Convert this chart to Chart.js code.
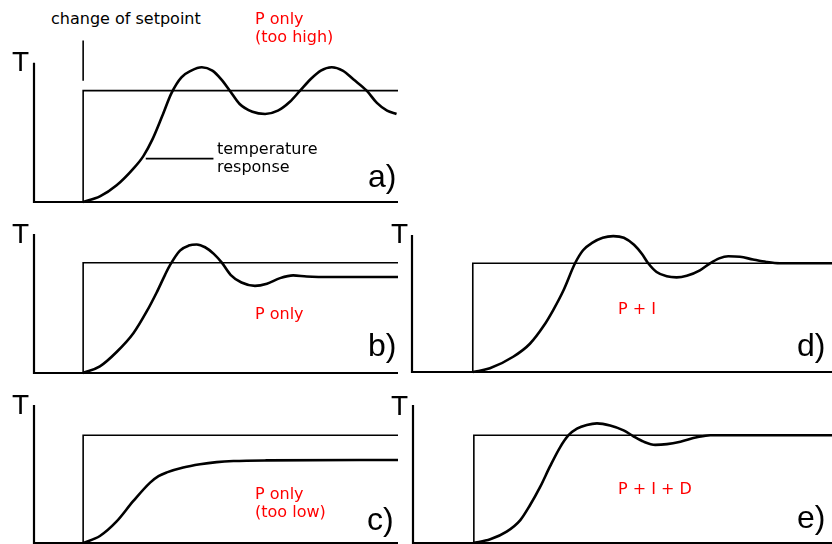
<!DOCTYPE html>
<html>
<head>
<meta charset="utf-8">
<title>Controller responses</title>
<script src="https://cdn.jsdelivr.net/npm/chart.js@4/dist/chart.umd.min.js"></script>
<style>
  body { margin: 0; width: 832px; height: 544px; overflow: hidden; background: #fff; position: relative; }
  canvas { position: absolute; }
  .lbl { position: absolute; font-family: "DejaVu Sans", Verdana, sans-serif; font-size: 16px; line-height: 18px; color: #000; white-space: nowrap; }
  .red { color: #ff0000; }
  .axisT { position: absolute; font-family: "Liberation Sans", Arial, sans-serif; font-size: 28px; line-height: 28px; }
  .tag { position: absolute; font-family: "Liberation Sans", Arial, sans-serif; font-size: 32px; line-height: 32px; }
</style>
</head>
<body>

<canvas id="chartA"></canvas>
<canvas id="chartB"></canvas>
<canvas id="chartC"></canvas>
<canvas id="chartD"></canvas>
<canvas id="chartE"></canvas>

<div class="lbl" style="left:51px; top:10px;">change of setpoint</div>
<div class="lbl red" style="left:255px; top:10px;">P only<br>(too high)</div>
<div class="lbl" style="left:217px; top:140px;">temperature<br>response</div>
<div class="lbl red" style="left:255px; top:305px;">P only</div>
<div class="lbl red" style="left:255px; top:485px;">P only<br>(too low)</div>
<div class="lbl red" style="left:618px; top:300px;">P + I</div>
<div class="lbl red" style="left:618px; top:480px;">P + I + D</div>

<div class="axisT" style="left:12px; top:48px;">T</div>
<div class="axisT" style="left:12px; top:220px;">T</div>
<div class="axisT" style="left:12px; top:391px;">T</div>
<div class="axisT" style="left:391px; top:220px;">T</div>
<div class="axisT" style="left:391px; top:392px;">T</div>

<div class="tag" style="left:368px; top:160px;">a)</div>
<div class="tag" style="left:368px; top:329px;">b)</div>
<div class="tag" style="left:367px; top:503px;">c)</div>
<div class="tag" style="left:797px; top:329px;">d)</div>
<div class="tag" style="left:797px; top:501px;">e)</div>

<script>
// setpoint is 1.0 in every panel, step happens at the given time
const setpoint = 1.0;
const stepLeft = 13.5;   // panels a, b, c
const stepRight = 16.7;  // panels d, e

// a) P only, gain too high - sustained oscillation
const timeA = [13.5, 18.1, 22.7, 27.3, 30.0, 32.5, 35.2, 37.8, 40.5, 43.2, 46.1, 49.0, 51.5, 53.8, 56.5, 60.0, 63.5,
               67.0, 70.3, 73.1, 75.9, 78.8, 81.8, 84.8, 87.8, 91.4, 94.2, 97.0, 99.6];
const tempA = [0, 0.05, 0.15, 0.30, 0.41, 0.56, 0.77, 0.98, 1.12, 1.18, 1.21, 1.18, 1.10, 1.0, 0.88, 0.81, 0.79,
               0.82, 0.90, 1.0, 1.10, 1.18, 1.21, 1.18, 1.10, 1.0, 0.89, 0.82, 0.79];

// b) P only - settles below the setpoint
const timeB = [13.5, 18.1, 22.7, 27.3, 31.0, 33.7, 36.0, 37.4, 40.1, 42.5, 44.7, 47.0, 49.4, 51.6, 54.0, 57.0, 60.7,
               64.0, 67.6, 71.2, 74.9, 82.0, 100];
const tempB = [0, 0.06, 0.19, 0.36, 0.56, 0.73, 0.89, 0.98, 1.11, 1.155, 1.165, 1.14, 1.08, 1.0, 0.89, 0.82, 0.79,
               0.81, 0.86, 0.885, 0.875, 0.87, 0.87];

// c) P only, gain too low - slow, large offset
const timeC = [13.5, 18.1, 22.7, 27.3, 31.9, 34.2, 36.5, 41.0, 45.6, 50.2, 54.8, 63.9, 100];
const tempC = [0, 0.065, 0.20, 0.39, 0.56, 0.62, 0.655, 0.70, 0.73, 0.75, 0.76, 0.766, 0.77];

// d) P + I - overshoot, no offset
const timeD = [16.8, 21.4, 27.8, 32.4, 36.1, 38.8, 41.6, 44.8, 47.0, 49.6, 52.4, 55.3, 58.2, 61.0, 63.2, 64.9, 67.2,
               70.0, 72.7, 75.5, 79.1, 81.9, 84.4, 86.9, 90.1, 93.7, 97.4, 101.1, 108.0, 115.4];
const tempD = [0, 0.034, 0.14, 0.26, 0.42, 0.57, 0.75, 1.0, 1.12, 1.19, 1.235, 1.25, 1.235, 1.17, 1.085, 1.0, 0.92,
               0.88, 0.87, 0.885, 0.935, 1.0, 1.045, 1.065, 1.06, 1.035, 1.012, 1.0, 1.0, 1.0];

// e) P + I + D - small overshoot, fast settling
const timeE = [16.5, 21.2, 25.7, 29.4, 32.1, 34.9, 37.6, 40.4, 42.7, 45.0, 47.7, 50.5, 54.1, 57.8, 60.5, 63.3, 66.5,
               69.7, 73.4, 77.9, 81.6, 87.1, 115];
const tempE = [0, 0.034, 0.105, 0.21, 0.35, 0.52, 0.71, 0.89, 1.0, 1.06, 1.095, 1.11, 1.09, 1.045, 0.99, 0.94, 0.91,
               0.917, 0.94, 0.98, 1.0, 1.0, 1.0];

// "change of setpoint" marker and the leader line for the response label (panel a)
const markerA = [1.09, 1.45];
const leaderX = [30.7, 49.3];
const leaderY = 0.39;

const pad = 6;

function points(xs, ys) {
    return xs.map((x, i) => ({ x: x, y: ys[i] }));
}

function line(data, width, smooth) {
    return {
        data: data,
        borderColor: "#000",
        borderWidth: width,
        pointRadius: 0,
        fill: false,
        clip: false,
        tension: 0,
        cubicInterpolationMode: smooth ? "monotone" : "default"
    };
}

function makePanel(id, box, step, times, temps, extra) {
    const canvas = document.getElementById(id);
    const w = Math.round(box.xMax * box.pxX) + pad * 2;
    const h = Math.round(box.yMax * box.pxY) + pad * 2;
    canvas.width = w;
    canvas.height = h;
    canvas.style.width = w + "px";
    canvas.style.height = h + "px";
    canvas.style.left = (box.left - pad) + "px";
    canvas.style.top = (box.bottom - box.yMax * box.pxY - pad) + "px";

    const datasets = [
        line([{ x: 0, y: box.axisTop }, { x: 0, y: 0 }, { x: box.xMax, y: 0 }], 2.2),
        line([{ x: step, y: 0 }, { x: step, y: setpoint }, { x: box.xMax, y: setpoint }], 1.6),
        line(points(times, temps), 2.6, true)
    ].concat(extra || []);

    new Chart(canvas, {
        type: "line",
        data: { datasets: datasets },
        options: {
            responsive: false,
            animation: false,
            devicePixelRatio: 1,
            events: [],
            layout: { padding: pad },
            plugins: { legend: { display: false }, tooltip: { enabled: false } },
            scales: {
                x: { type: "linear", display: false, min: 0, max: box.xMax },
                y: { type: "linear", display: false, min: 0, max: box.yMax }
            }
        }
    });
}

makePanel("chartA", { left: 34, bottom: 201, pxX: 3.64, pxY: 111, xMax: 100, yMax: 1.5, axisTop: 1.25 },
    stepLeft, timeA, tempA, [
        line([{ x: stepLeft, y: markerA[0] }, { x: stepLeft, y: markerA[1] }], 1.6),
        line([{ x: leaderX[0], y: leaderY }, { x: leaderX[1], y: leaderY }], 1.6)
    ]);

makePanel("chartB", { left: 34, bottom: 373, pxX: 3.64, pxY: 110, xMax: 100, yMax: 1.26, axisTop: 1.26 },
    stepLeft, timeB, tempB);

makePanel("chartC", { left: 34, bottom: 543, pxX: 3.64, pxY: 108, xMax: 100, yMax: 1.28, axisTop: 1.28 },
    stepLeft, timeC, tempC);

makePanel("chartD", { left: 412, bottom: 372, pxX: 3.64, pxY: 109, xMax: 115.4, yMax: 1.26, axisTop: 1.26 },
    stepRight, timeD, tempD);

makePanel("chartE", { left: 413, bottom: 543, pxX: 3.64, pxY: 108, xMax: 115, yMax: 1.28, axisTop: 1.28 },
    stepRight, timeE, tempE);
</script>
</body>
</html>
